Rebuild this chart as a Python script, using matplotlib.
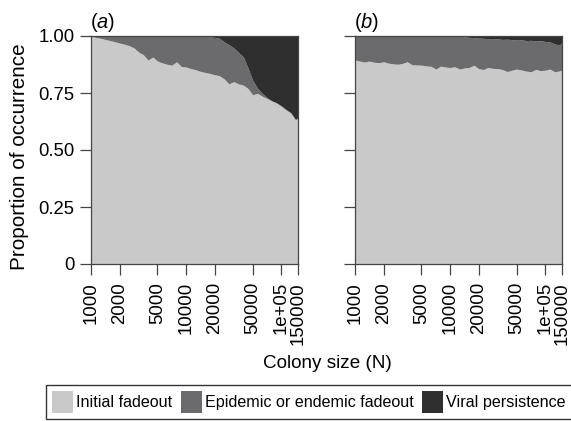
import matplotlib
matplotlib.use("Agg")
import matplotlib.pyplot as plt
from matplotlib.patches import Patch

plt.rcParams['font.family'] = ['Liberation Sans', 'DejaVu Sans']
plt.rcParams['mathtext.fontset'] = 'custom'
plt.rcParams['mathtext.it'] = 'Liberation Sans:italic'
plt.rcParams['mathtext.rm'] = 'Liberation Sans'

colony_size = [1000, 1120, 1260, 1410, 1580, 1780, 2000, 2240, 2510, 2820,
               3160, 3550, 3980, 4470, 5010, 5620, 6310, 7080, 7940, 8910,
               10000, 11220, 12590, 14130, 15850, 17780, 19950, 22390, 25120, 28180,
               31620, 35480, 39810, 44670, 50120, 56230, 63100, 70790, 79430, 89130,
               100000, 112200, 125900, 141300, 150000]

# panel (a): cumulative proportions
a_initial = [1.0, 0.994, 0.99, 0.985, 0.98, 0.975, 0.969, 0.964, 0.958, 0.948,
             0.93, 0.918, 0.895, 0.908, 0.89, 0.882, 0.876, 0.872, 0.887, 0.866,
             0.864, 0.857, 0.852, 0.845, 0.84, 0.836, 0.83, 0.826, 0.812, 0.79,
             0.80, 0.79, 0.785, 0.77, 0.742, 0.749, 0.736, 0.726, 0.716, 0.707,
             0.692, 0.676, 0.662, 0.632, 0.64]
a_initial_epidemic = [1.0, 1.0, 1.0, 1.0, 1.0, 1.0, 1.0, 1.0, 1.0, 1.0,
                      1.0, 1.0, 1.0, 1.0, 1.0, 1.0, 1.0, 1.0, 1.0, 1.0,
                      1.0, 1.0, 1.0, 1.0, 0.998, 0.996, 0.994, 0.99, 0.974, 0.962,
                      0.948, 0.928, 0.909, 0.86, 0.805, 0.771, 0.748, 0.73, 0.716, 0.707,
                      0.694, 0.678, 0.664, 0.634, 0.642]

# panel (b): cumulative proportions
b_initial = [0.895, 0.89, 0.886, 0.89, 0.885, 0.883, 0.887, 0.881, 0.878, 0.876,
             0.88, 0.887, 0.874, 0.873, 0.872, 0.869, 0.867, 0.855, 0.868, 0.864,
             0.862, 0.865, 0.855, 0.86, 0.862, 0.872, 0.857, 0.853, 0.862, 0.858,
             0.857, 0.853, 0.844, 0.85, 0.855, 0.851, 0.846, 0.843, 0.854, 0.848,
             0.85, 0.855, 0.843, 0.847, 0.851]
b_initial_epidemic = [1.0, 1.0, 1.0, 1.0, 1.0, 1.0, 1.0, 1.0, 1.0, 1.0,
                      1.0, 1.0, 1.0, 1.0, 1.0, 1.0, 1.0, 1.0, 1.0, 1.0,
                      1.0, 1.0, 1.0, 0.996, 0.994, 0.993, 0.991, 0.99, 0.988, 0.989,
                      0.987, 0.985, 0.986, 0.984, 0.982, 0.983, 0.98, 0.981, 0.978, 0.979,
                      0.976, 0.974, 0.965, 0.96, 0.972]

xticks = [1000, 2000, 5000, 10000, 20000, 50000, 100000, 150000]
xticklabels = ["1000", "2000", "5000", "10000", "20000", "50000", "1e+05", "150000"]
yticks = [0, 0.25, 0.5, 0.75, 1.0]
yticklabels = ["0", "0.25", "0.50", "0.75", "1.00"]
legend_labels = ["Initial fadeout", "Epidemic or endemic fadeout", "Viral persistence"]
colors = ["#c9c9c9", "#6b6b6d", "#2f2f2f"]

W, H = 571, 421
fig = plt.figure(figsize=(W / 100, H / 100), dpi=100)

def box(x0, y0, x1, y1):
    return [x0 / W, 1 - y1 / H, (x1 - x0) / W, (y1 - y0) / H]

axa = fig.add_axes(box(91, 36, 298, 264))
axb = fig.add_axes(box(355, 36, 562, 264))

for ax, lo, mid, title, x0, showy in [(axa, a_initial, a_initial_epidemic, r'($\it{a}$)', 90, True),
                                       (axb, b_initial, b_initial_epidemic, r'($\it{b}$)', 354, False)]:
    ax.fill_between(colony_size, 0, lo, color=colors[0], lw=0)
    ax.fill_between(colony_size, lo, mid, color=colors[1], lw=0)
    ax.fill_between(colony_size, mid, 1, color=colors[2], lw=0)
    ax.set_xscale('log')
    ax.set_xlim(1000, 150000)
    ax.set_ylim(0, 1)
    ax.set_xticks(xticks)
    ax.set_xticklabels(xticklabels, rotation=90, fontsize=13.4)
    ax.minorticks_off()
    ax.set_yticks(yticks)
    if showy:
        ax.set_yticklabels(yticklabels, fontsize=13.3)
    else:
        ax.set_yticklabels([])
    ax.tick_params(axis='both', length=8, width=0.9, color='#444444', pad=4)
    ax.tick_params(axis='x', pad=5)
    for s in ax.spines.values():
        s.set_color('#444444')
        s.set_linewidth(0.9)
    fig.text(x0 / W, 1 - 28 / H, title, fontsize=14.5, ha='left', va='baseline')

fig.text(20 / W, 1 - 157 / H, "Proportion of occurrence", fontsize=14.9,
         rotation=90, ha='center', va='center')
fig.text(327 / W, 1 - 364 / H, "Colony size (N)", fontsize=13.6, ha='center', va='center')

handles = [Patch(facecolor=c, edgecolor='none') for c in colors]
leg = fig.legend(handles, legend_labels, loc='lower left', ncol=3,
                 bbox_to_anchor=(46 / W, 1 - 419 / H, (572 - 46) / W, 36 / H),
                 mode='expand', fontsize=11.6, frameon=True, fancybox=False,
                 handlelength=1.3, handleheight=1.7, handletextpad=0.2,
                 columnspacing=0.5, borderpad=0.38, borderaxespad=0)
leg.get_frame().set_edgecolor('black')
leg.get_frame().set_linewidth(1.0)

fig.savefig("out.png", dpi=100)
